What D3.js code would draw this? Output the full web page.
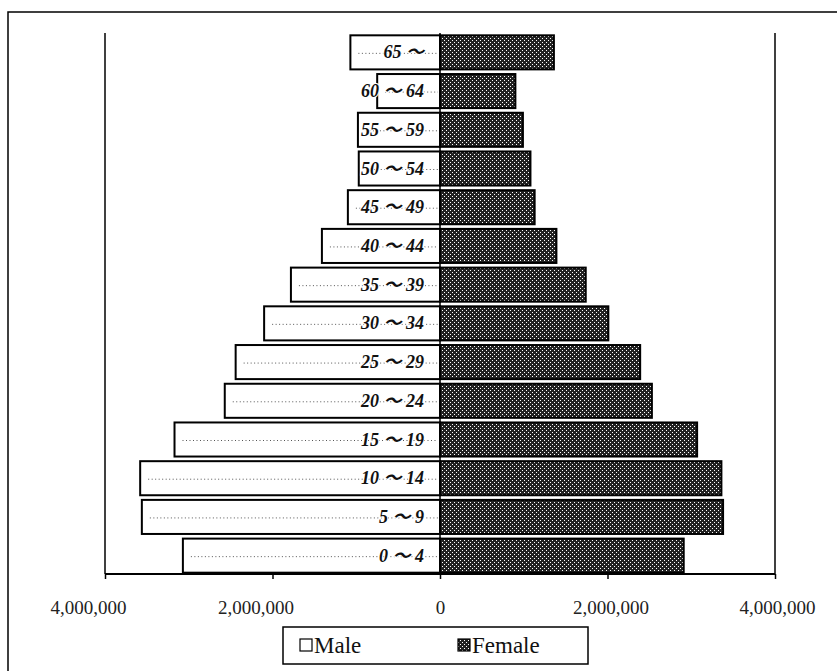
<!DOCTYPE html>
<html><head><meta charset="utf-8">
<script src="https://cdn.jsdelivr.net/npm/d3@7"></script>
<style>body{margin:0;background:#fff}svg{display:block}
.serif{font-family:"Liberation Serif","Times New Roman","DejaVu Serif",serif}
.lab{font-family:"Liberation Serif","Times New Roman","Noto Sans CJK JP",serif}
</style>
</head><body>
<svg id="chart" width="837" height="671"></svg>
<script>
const categories = ["0～4","5～9","10～14","15～19","20～24","25～29","30～34","35～39","40～44","45～49","50～54","55～59","60～64","65～"];
const labels = ["0 ～ 4","5 ～ 9","10 ～ 14","15 ～ 19","20 ～ 24","25 ～ 29","30 ～ 34","35 ～ 39","40 ～ 44","45 ～ 49","50 ～ 54","55 ～ 59","60 ～ 64","65 ～"];
const male = [3070000,3560000,3580000,3170000,2570000,2440000,2100000,1780000,1410000,1100000,970000,980000,750000,1070000];
const female = [2910000,3380000,3360000,3070000,2530000,2390000,2010000,1740000,1390000,1130000,1080000,990000,900000,1360000];
const ticks = [-4000000,-2000000,0,2000000,4000000];
const tickLabels = ["4,000,000","2,000,000","0","2,000,000","4,000,000"];
const series = ["Male","Female"];

const svg = d3.select("#chart");
const defs = svg.append("defs");
const pat = defs.append("pattern").attr("id","dots").attr("patternUnits","userSpaceOnUse")
  .attr("width",4).attr("height",4);
pat.append("rect").attr("width",4).attr("height",4).attr("fill","#222");
pat.append("rect").attr("x",0).attr("y",0).attr("width",1).attr("height",1).attr("fill","#fff");
pat.append("rect").attr("x",2).attr("y",2).attr("width",1).attr("height",1).attr("fill","#fff");

svg.append("rect").attr("x",8).attr("y",12).attr("width",900).attr("height",800)
  .attr("fill","none").attr("stroke","#000").attr("stroke-width",1.5);

const x = d3.scaleLinear().domain([-4000000,4000000]).range([105,775]);
const y = d3.scaleBand().domain(categories.slice().reverse()).range([33,575]).paddingInner(0.12).paddingOuter(0.06);

[-4000000,4000000,0].forEach(v=>{
  svg.append("line").attr("x1",x(v)).attr("x2",x(v)).attr("y1",33).attr("y2",574)
    .attr("stroke","#000").attr("stroke-width",1.5);
});

const labelShift = [-17,-17,0,3,2];
const axis = d3.axisBottom(x).tickValues(ticks).tickSize(5).tickFormat((d,i)=>tickLabels[i]);
const ag = svg.append("g").attr("transform","translate(0,574)").call(axis);
ag.attr("font-family",null);
ag.select(".domain").attr("stroke","#000").attr("stroke-width",2).attr("d","M105,0H775");
ag.selectAll(".tick line").attr("stroke","#000").attr("stroke-width",1.5);
ag.selectAll(".tick text").attr("class","serif").attr("dy",0).attr("y",40)
  .attr("x",(d,i)=>labelShift[i])
  .style("font-size","19px").attr("fill","#222");

const g = svg.append("g");
g.selectAll("rect.m").data(categories).join("rect").attr("class","m")
  .attr("x",(d,i)=>x(-male[i])).attr("y",d=>y(d)).attr("width",(d,i)=>x(0)-x(-male[i]))
  .attr("height",y.bandwidth()).attr("fill","#fff").attr("stroke","#000").attr("stroke-width",2);
g.selectAll("rect.f").data(categories).join("rect").attr("class","f")
  .attr("x",x(0)).attr("y",d=>y(d)).attr("width",(d,i)=>x(female[i])-x(0))
  .attr("height",y.bandwidth()).attr("fill","url(#dots)").attr("stroke","#000").attr("stroke-width",2);
g.selectAll("line.lead").data(categories).join("line").attr("class","lead")
  .attr("x1",(d,i)=>x(-male[i])+8).attr("x2",x(0)-2)
  .attr("y1",d=>y(d)+y.bandwidth()/2+1).attr("y2",d=>y(d)+y.bandwidth()/2+1)
  .attr("stroke","#555").attr("stroke-width",1).attr("stroke-dasharray","1,2.5");
g.selectAll("text.lab").data(categories).join("text").attr("class","lab")
  .attr("x",424).attr("y",d=>y(d)+y.bandwidth()/2+6)
  .attr("text-anchor","end")
  .style("font-style","italic").style("font-weight","bold").style("font-size","18px").attr("fill","#111")
  .attr("paint-order","stroke").attr("stroke","#fff").attr("stroke-width",2)
  .text((d,i)=>labels[i]);

const lg = svg.append("g");
lg.append("rect").attr("x",283).attr("y",627).attr("width",305).attr("height",37)
  .attr("fill","#fff").attr("stroke","#000").attr("stroke-width",1.5);
const legX = [300,458];
series.forEach((s,i)=>{
  lg.append("rect").attr("x",legX[i]).attr("y",639).attr("width",12).attr("height",12)
    .attr("fill",i===0?"#fff":"url(#dots)").attr("stroke","#000").attr("stroke-width",1.2);
  lg.append("text").attr("class","serif").attr("x",legX[i]+14).attr("y",653)
    .style("font-size","23px").attr("fill","#111").text(s);
});
</script>
</body></html>
